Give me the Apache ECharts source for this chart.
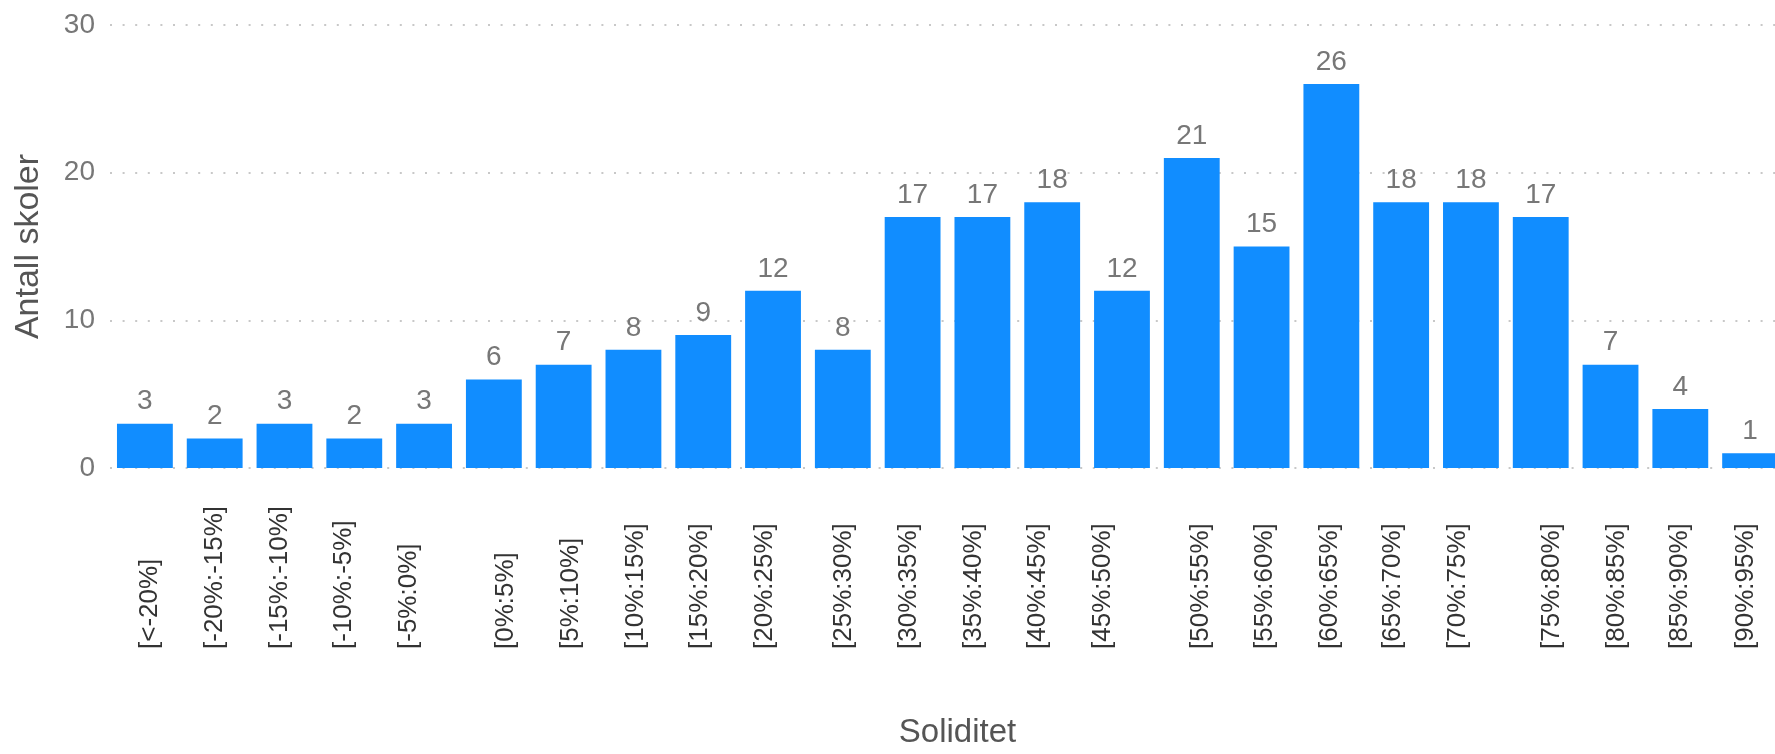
<!DOCTYPE html>
<html>
<head>
<meta charset="utf-8">
<script src="https://cdn.jsdelivr.net/npm/echarts@6/dist/echarts.min.js"></script>
<style>
html,body{margin:0;padding:0;overflow:hidden;background:#fff;}
#chart{width:1800px;height:754px;}
</style>
</head>
<body>
<div id="chart"></div>
<script>
const categories = ['[<-20%]','[-20%:-15%]','[-15%:-10%]','[-10%:-5%]','[-5%:0%]','[0%:5%]','[5%:10%]','[10%:15%]','[15%:20%]','[20%:25%]','[25%:30%]','[30%:35%]','[35%:40%]','[40%:45%]','[45%:50%]','[50%:55%]','[55%:60%]','[60%:65%]','[65%:70%]','[70%:75%]','[75%:80%]','[80%:85%]','[85%:90%]','[90%:95%]'];
const counts = [3,2,3,2,3,6,7,8,9,12,8,17,17,18,12,21,15,26,18,18,17,7,4,1];
const yTicks = [0,10,20,30];

// styling: horizontal nudge of each rotated category label (px, screen)
const labelNudge = [5,0,-5,-10,-15,12,7,2,-3,-8,1,-4,-9,-14,-19,9,3,-2,-8,-13,11,6,0,-4];

const font = '"Liberation Sans", Arial, sans-serif';
const rich = {};
labelNudge.forEach((d, i) => {
  rich['n' + i] = {
    fontFamily: font, fontSize: 26, color: '#333',
    padding: d >= 0 ? [2 * d, 0, 0, 0] : [0, 0, -2 * d, 0]
  };
});

const chart = echarts.init(document.getElementById('chart'));
chart.setOption({
  animation: false,
  grid: {left: 110, right: 15, top: 25, bottom: 273, containLabel: false},
  xAxis: {
    type: 'category',
    data: categories,
    name: 'Soliditet',
    nameLocation: 'middle',
    nameGap: 248,
    nameTextStyle: {fontFamily: font, fontSize: 33, color: '#555', padding: [0,0,0,20]},
    axisLine: {show: false},
    axisTick: {show: false},
    axisLabel: {
      rotate: 90, align: 'left', verticalAlign: 'middle', margin: 181,
      fontFamily: font, fontSize: 26, color: '#333', interval: 0,
      formatter: (v, i) => '{n' + i + '|' + v + '}',
      rich: rich
    }
  },
  yAxis: {
    type: 'value',
    min: 0, max: 30, interval: 10,
    name: 'Antall skoler',
    nameLocation: 'middle',
    nameGap: 64,
    nameTextStyle: {fontFamily: font, fontSize: 34, color: '#555'},
    axisLine: {show: false},
    axisTick: {show: false},
    axisLabel: {
      margin: 15, fontFamily: font, fontSize: 28, color: '#777',
      formatter: v => yTicks.includes(v) ? String(v) : ''
    },
    splitLine: {lineStyle: {color: '#c8c8c8', width: 2, type: [2, 10.6]}}
  },
  series: [{
    type: 'bar',
    data: counts,
    barCategoryGap: '20%',
    itemStyle: {color: '#118DFF'},
    label: {show: true, position: 'top', distance: 8, fontFamily: font, fontSize: 28, color: '#777'}
  }]
});
</script>
</body>
</html>
